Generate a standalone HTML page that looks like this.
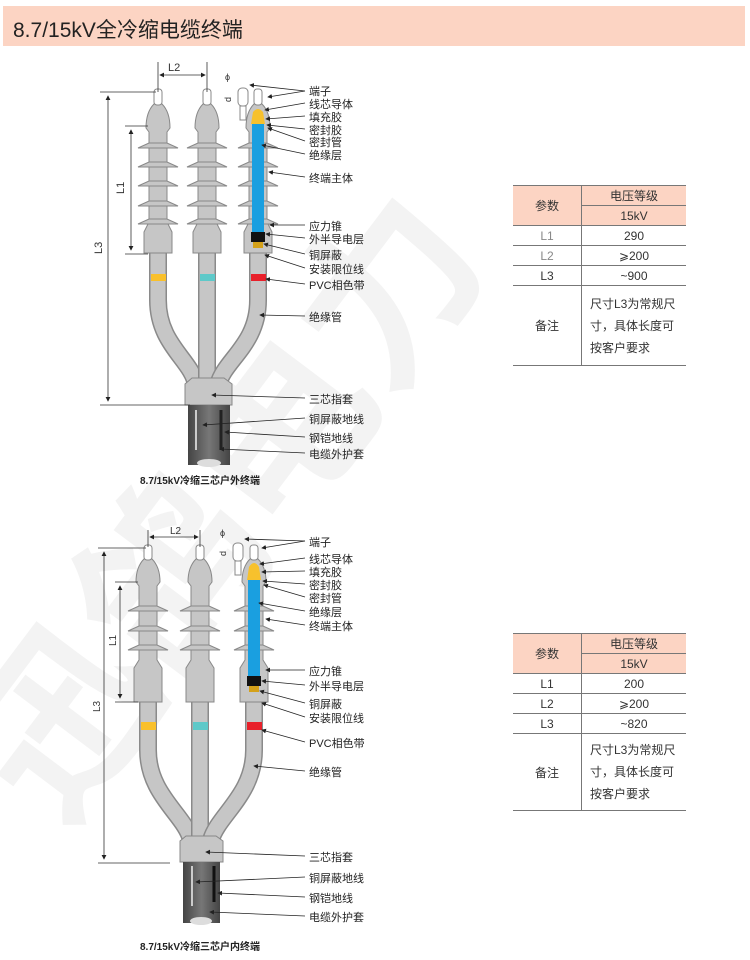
<!DOCTYPE html>
<html><head><meta charset="utf-8"><style>
body{margin:0;width:750px;height:960px;background:#fff;position:relative;overflow:hidden;font-family:"Liberation Sans","Noto Sans CJK SC",sans-serif;}
.hdr{position:absolute;left:3px;top:6px;width:742px;height:40px;background:#fcd4c3;}
.hdr span{position:absolute;left:10px;top:8px;font-size:21px;color:#222;}
table{position:absolute;border-collapse:collapse;font-size:12px;color:#333;}
td{border-top:1px solid #777;border-bottom:1px solid #777;text-align:center;height:19px;padding:0}
td.l{border-right:1px solid #777}
.pk{background:#fcd4c3}
.note{text-align:left;padding-left:8px;line-height:22px}
</style></head><body>
<div class="hdr"><span>8.7/15kV全冷缩电缆终端</span></div>

<svg width="750" height="960" style="position:absolute;left:0;top:0" font-family="Liberation Sans,Noto Sans CJK SC,sans-serif">
<defs>
<marker id="a" markerWidth="6" markerHeight="6" refX="5" refY="3" orient="auto"><path d="M0,0 L6,3 L0,6 Z" fill="#222"/></marker>
<marker id="b" markerWidth="6" markerHeight="6" refX="1" refY="3" orient="auto"><path d="M6,0 L0,3 L6,6 Z" fill="#222"/></marker>
<linearGradient id="cab" x1="0" x2="1"><stop offset="0" stop-color="#444"/><stop offset=".5" stop-color="#777"/><stop offset="1" stop-color="#444"/></linearGradient>
</defs>
<!-- watermark -->
<text x="60" y="830" font-size="180" fill="#f3f3f3" transform="rotate(-53 60 830)" font-weight="bold">迅鸽电力</text>

<!-- ========== TOP DIAGRAM ========== -->
<g stroke="#888" stroke-width="1" fill="#c6c6c6">
<g fill="none" stroke-linecap="butt">
<path d="M158,253 L158,300 C158,345 192,360 196,385" stroke="#8a8a8a" stroke-width="18"/>
<path d="M158,253 L158,300 C158,345 192,360 196,385" stroke="#c6c6c6" stroke-width="15"/>
<path d="M207,253 L207,385" stroke="#8a8a8a" stroke-width="18"/>
<path d="M207,253 L207,385" stroke="#c6c6c6" stroke-width="15"/>
<path d="M258,253 L258,300 C258,345 224,360 218,385" stroke="#8a8a8a" stroke-width="18"/>
<path d="M258,253 L258,300 C258,345 224,360 218,385" stroke="#c6c6c6" stroke-width="15"/>
</g>
<path d="M154,104 L162,104 Q170,112 170,128 L167,132 L167,222 L172,232 L172,253 L144,253 L144,232 L149,222 L149,132 L146,128 Q146,112 154,104 Z"/>
<path d="M203,104 L211,104 Q219,112 219,128 L216,132 L216,222 L221,232 L221,253 L193,253 L193,232 L198,222 L198,132 L195,128 Q195,112 203,104 Z"/>
<path d="M254,104 L262,104 Q270,112 270,128 L267,132 L267,222 L272,232 L272,253 L244,253 L244,232 L249,222 L249,132 L246,128 Q246,112 254,104 Z"/>
<g>
<path d="M138,148 L178,148 L167,143 L149,143Z M138,167 L178,167 L167,162 L149,162Z M138,186 L178,186 L167,181 L149,181Z M138,206 L178,206 L167,201 L149,201Z M138,224 L178,224 L167,219 L149,219Z"/>
<path transform="translate(49,0)" d="M138,148 L178,148 L167,143 L149,143Z M138,167 L178,167 L167,162 L149,162Z M138,186 L178,186 L167,181 L149,181Z M138,206 L178,206 L167,201 L149,201Z M138,224 L178,224 L167,219 L149,219Z"/>
<path transform="translate(100,0)" d="M138,148 L178,148 L167,143 L149,143Z M138,167 L178,167 L167,162 L149,162Z M138,186 L178,186 L167,181 L149,181Z M138,206 L178,206 L167,201 L149,201Z M138,224 L178,224 L167,219 L149,219Z"/>
</g>
<rect x="154" y="89" width="8" height="16" rx="3" fill="#fff"/>
<rect x="203" y="89" width="8" height="16" rx="3" fill="#fff"/>
<rect x="254" y="89" width="8" height="16" rx="3" fill="#fff"/>
<rect x="238" y="88" width="10" height="18" rx="4" fill="#fff"/>
<rect x="240" y="106" width="6" height="14" fill="#fff"/>
<path d="M192,378 L224,378 L232,384 L232,405 L185,405 L185,384 Z"/>
</g>
<path d="M253,112 Q258,106 263,112 L265,124 L251,124 Z" fill="#f7c12d"/>
<rect x="252" y="124" width="12" height="108" fill="#1a9fe0"/>
<rect x="251" y="232" width="14" height="10" fill="#111"/>
<rect x="253" y="242" width="10" height="6" fill="#d4a11a"/>
<rect x="151" y="274" width="15" height="7" fill="#f9c02b"/>
<rect x="200" y="274" width="15" height="7" fill="#5ec9c9"/>
<rect x="251" y="274" width="15" height="7" fill="#e8202a"/>
<rect x="188" y="405" width="42" height="60" fill="url(#cab)"/>
<ellipse cx="209" cy="463" rx="12" ry="4" fill="#ddd"/>
<line x1="196" y1="410" x2="196" y2="450" stroke="#ccc" stroke-width="2"/>
<line x1="221" y1="410" x2="221" y2="450" stroke="#222" stroke-width="3"/>
<g stroke="#333" stroke-width="0.8" fill="none">
<line x1="158" y1="62" x2="158" y2="92"/><line x1="207" y1="62" x2="207" y2="92"/>
<line x1="160" y1="75" x2="205" y2="75" marker-start="url(#b)" marker-end="url(#a)"/>
<line x1="100" y1="92" x2="156" y2="92"/>
<line x1="100" y1="405" x2="190" y2="405"/>
<line x1="108" y1="96" x2="108" y2="401" marker-start="url(#b)" marker-end="url(#a)"/>
<line x1="125" y1="126" x2="148" y2="126"/><line x1="125" y1="254" x2="148" y2="254"/>
<line x1="131" y1="130" x2="131" y2="250" marker-start="url(#b)" marker-end="url(#a)"/>
</g>
<text x="168" y="71" font-size="11" fill="#333">L2</text>
<text transform="translate(124,194) rotate(-90)" font-size="11" fill="#333">L1</text>
<text transform="translate(102,254) rotate(-90)" font-size="11" fill="#333">L3</text>
<text x="225" y="80" font-size="9" fill="#333">ϕ</text>
<text transform="translate(231,102) rotate(-90)" font-size="9" fill="#333">d</text>
<g stroke="#222" stroke-width="0.8" fill="none" marker-end="url(#a)">
<line x1="305" y1="91" x2="250" y2="85"/><line x1="305" y1="91" x2="268" y2="97"/>
<line x1="305" y1="103" x2="265" y2="110"/>
<line x1="305" y1="116" x2="266" y2="119"/>
<line x1="305" y1="129" x2="267" y2="125"/>
<line x1="305" y1="141" x2="268" y2="128"/>
<line x1="305" y1="154" x2="262" y2="145"/>
<line x1="305" y1="177" x2="269" y2="172"/>
<line x1="305" y1="225" x2="270" y2="225"/>
<line x1="305" y1="238" x2="266" y2="234"/>
<line x1="305" y1="254" x2="264" y2="244"/>
<line x1="305" y1="268" x2="265" y2="255"/>
<line x1="305" y1="284" x2="266" y2="279"/>
<line x1="305" y1="316" x2="260" y2="315"/>
<line x1="305" y1="398" x2="212" y2="395"/>
<line x1="305" y1="418" x2="203" y2="425"/>
<line x1="305" y1="437" x2="225" y2="432"/>
<line x1="305" y1="453" x2="220" y2="449"/>
</g>
<g font-size="11" fill="#222">
<text x="309" y="95">端子</text><text x="309" y="108">线芯导体</text><text x="309" y="121">填充胶</text>
<text x="309" y="134">密封胶</text><text x="309" y="146">密封管</text><text x="309" y="159">绝缘层</text>
<text x="309" y="182">终端主体</text><text x="309" y="230">应力锥</text><text x="309" y="243">外半导电层</text>
<text x="309" y="259">铜屏蔽</text><text x="309" y="273">安装限位线</text><text x="309" y="289">PVC相色带</text>
<text x="309" y="321">绝缘管</text><text x="309" y="403">三芯指套</text><text x="309" y="423">铜屏蔽地线</text>
<text x="309" y="442">钢铠地线</text><text x="309" y="458">电缆外护套</text>
</g>
<text x="140" y="484" font-size="10" font-weight="bold" fill="#222">8.7/15kV冷缩三芯户外终端</text>

<!-- ========== BOTTOM DIAGRAM ========== -->
<g stroke="#888" stroke-width="1" fill="#c6c6c6">
<g fill="none">
<path d="M148,702 L148,750 C148,795 185,815 191,840" stroke="#8a8a8a" stroke-width="18"/>
<path d="M148,702 L148,750 C148,795 185,815 191,840" stroke="#c6c6c6" stroke-width="15"/>
<path d="M200,702 L200,840" stroke="#8a8a8a" stroke-width="18"/>
<path d="M200,702 L200,840" stroke="#c6c6c6" stroke-width="15"/>
<path d="M254,702 L254,750 C254,795 218,815 211,840" stroke="#8a8a8a" stroke-width="18"/>
<path d="M254,702 L254,750 C254,795 218,815 211,840" stroke="#c6c6c6" stroke-width="15"/>
</g>
<path d="M144,559 L152,559 Q160,567 160,582 L157,586 L157,660 L162,668 L162,702 L134,702 L134,668 L139,660 L139,586 L136,582 Q136,567 144,559 Z"/>
<path d="M196,559 L204,559 Q212,567 212,582 L209,586 L209,660 L214,668 L214,702 L186,702 L186,668 L191,660 L191,586 L188,582 Q188,567 196,559 Z"/>
<path d="M250,559 L258,559 Q266,567 266,582 L263,586 L263,660 L268,668 L268,702 L240,702 L240,668 L245,660 L245,586 L242,582 Q242,567 250,559 Z"/>
<path d="M128,611 L168,611 L157,606 L139,606Z M128,631 L168,631 L157,626 L139,626Z M128,650 L168,650 L157,645 L139,645Z"/>
<path transform="translate(52,0)" d="M128,611 L168,611 L157,606 L139,606Z M128,631 L168,631 L157,626 L139,626Z M128,650 L168,650 L157,645 L139,645Z"/>
<path transform="translate(106,0)" d="M128,611 L168,611 L157,606 L139,606Z M128,631 L168,631 L157,626 L139,626Z M128,650 L168,650 L157,645 L139,645Z"/>
<rect x="144" y="545" width="8" height="15" rx="3" fill="#fff"/>
<rect x="196" y="545" width="8" height="15" rx="3" fill="#fff"/>
<rect x="250" y="545" width="8" height="15" rx="3" fill="#fff"/>
<rect x="233" y="543" width="10" height="18" rx="4" fill="#fff"/>
<rect x="235" y="561" width="6" height="14" fill="#fff"/>
<path d="M186,836 L216,836 L223,841 L223,862 L180,862 L180,841 Z"/>
</g>
<path d="M249,567 Q254,559 259,567 L261,580 L247,580 Z" fill="#f7c12d"/>
<rect x="248" y="580" width="12" height="96" fill="#1a9fe0"/>
<rect x="247" y="676" width="14" height="10" fill="#111"/>
<rect x="249" y="686" width="10" height="6" fill="#d4a11a"/>
<rect x="141" y="722" width="15" height="8" fill="#f9c02b"/>
<rect x="193" y="722" width="15" height="8" fill="#5ec9c9"/>
<rect x="247" y="722" width="15" height="8" fill="#e8202a"/>
<rect x="183" y="862" width="37" height="61" fill="url(#cab)"/>
<ellipse cx="201" cy="921" rx="11" ry="4" fill="#ddd"/>
<line x1="192" y1="866" x2="192" y2="906" stroke="#ccc" stroke-width="2"/>
<line x1="214" y1="866" x2="214" y2="902" stroke="#111" stroke-width="3"/>
<g stroke="#333" stroke-width="0.8" fill="none">
<line x1="148" y1="530" x2="148" y2="547"/><line x1="200" y1="530" x2="200" y2="547"/>
<line x1="150" y1="537" x2="198" y2="537" marker-start="url(#b)" marker-end="url(#a)"/>
<line x1="98" y1="548" x2="146" y2="548"/>
<line x1="98" y1="863" x2="170" y2="863"/>
<line x1="104" y1="552" x2="104" y2="859" marker-start="url(#b)" marker-end="url(#a)"/>
<line x1="115" y1="582" x2="138" y2="582"/><line x1="115" y1="702" x2="138" y2="702"/>
<line x1="120" y1="586" x2="120" y2="698" marker-start="url(#b)" marker-end="url(#a)"/>
</g>
<text x="170" y="534" font-size="10" fill="#333">L2</text>
<text transform="translate(116,646) rotate(-90)" font-size="10" fill="#333">L1</text>
<text transform="translate(100,712) rotate(-90)" font-size="10" fill="#333">L3</text>
<text x="220" y="536" font-size="9" fill="#333">ϕ</text>
<text transform="translate(226,556) rotate(-90)" font-size="9" fill="#333">d</text>
<g stroke="#222" stroke-width="0.8" fill="none" marker-end="url(#a)">
<line x1="305" y1="541" x2="245" y2="539"/><line x1="305" y1="541" x2="262" y2="548"/>
<line x1="305" y1="558" x2="260" y2="564"/>
<line x1="305" y1="571" x2="262" y2="572"/>
<line x1="305" y1="584" x2="263" y2="581"/>
<line x1="305" y1="597" x2="264" y2="585"/>
<line x1="305" y1="611" x2="259" y2="603"/>
<line x1="305" y1="625" x2="266" y2="619"/>
<line x1="305" y1="670" x2="266" y2="670"/>
<line x1="305" y1="685" x2="262" y2="681"/>
<line x1="305" y1="703" x2="260" y2="691"/>
<line x1="305" y1="717" x2="262" y2="703"/>
<line x1="305" y1="742" x2="262" y2="730"/>
<line x1="305" y1="771" x2="254" y2="766"/>
<line x1="305" y1="856" x2="206" y2="852"/>
<line x1="305" y1="877" x2="196" y2="882"/>
<line x1="305" y1="897" x2="218" y2="893"/>
<line x1="305" y1="916" x2="210" y2="912"/>
</g>
<g font-size="11" fill="#222">
<text x="309" y="546">端子</text><text x="309" y="563">线芯导体</text><text x="309" y="576">填充胶</text>
<text x="309" y="589">密封胶</text><text x="309" y="602">密封管</text><text x="309" y="616">绝缘层</text>
<text x="309" y="630">终端主体</text><text x="309" y="675">应力锥</text><text x="309" y="690">外半导电层</text>
<text x="309" y="708">铜屏蔽</text><text x="309" y="722">安装限位线</text><text x="309" y="747">PVC相色带</text>
<text x="309" y="776">绝缘管</text><text x="309" y="861">三芯指套</text><text x="309" y="882">铜屏蔽地线</text>
<text x="309" y="902">钢铠地线</text><text x="309" y="921">电缆外护套</text>
</g>
<text x="140" y="950" font-size="10" font-weight="bold" fill="#222">8.7/15kV冷缩三芯户内终端</text>
</svg>

<table style="left:513px;top:185px;width:173px">
<tr><td class="l pk" rowspan="2" style="width:68px">参数</td><td class="pk">电压等级</td></tr>
<tr><td class="pk">15kV</td></tr>
<tr><td class="l" style="color:#888">L1</td><td>290</td></tr>
<tr><td class="l" style="color:#888">L2</td><td>⩾200</td></tr>
<tr><td class="l">L3</td><td>~900</td></tr>
<tr><td class="l" style="height:79px">备注</td><td class="note">尺寸L3为常规尺<br>寸，具体长度可<br>按客户要求</td></tr>
</table>
<table style="left:513px;top:633px;width:173px">
<tr><td class="l pk" rowspan="2" style="width:68px">参数</td><td class="pk">电压等级</td></tr>
<tr><td class="pk">15kV</td></tr>
<tr><td class="l">L1</td><td>200</td></tr>
<tr><td class="l">L2</td><td>⩾200</td></tr>
<tr><td class="l">L3</td><td>~820</td></tr>
<tr><td class="l" style="height:76px">备注</td><td class="note">尺寸L3为常规尺<br>寸，具体长度可<br>按客户要求</td></tr>
</table>
</body></html>
